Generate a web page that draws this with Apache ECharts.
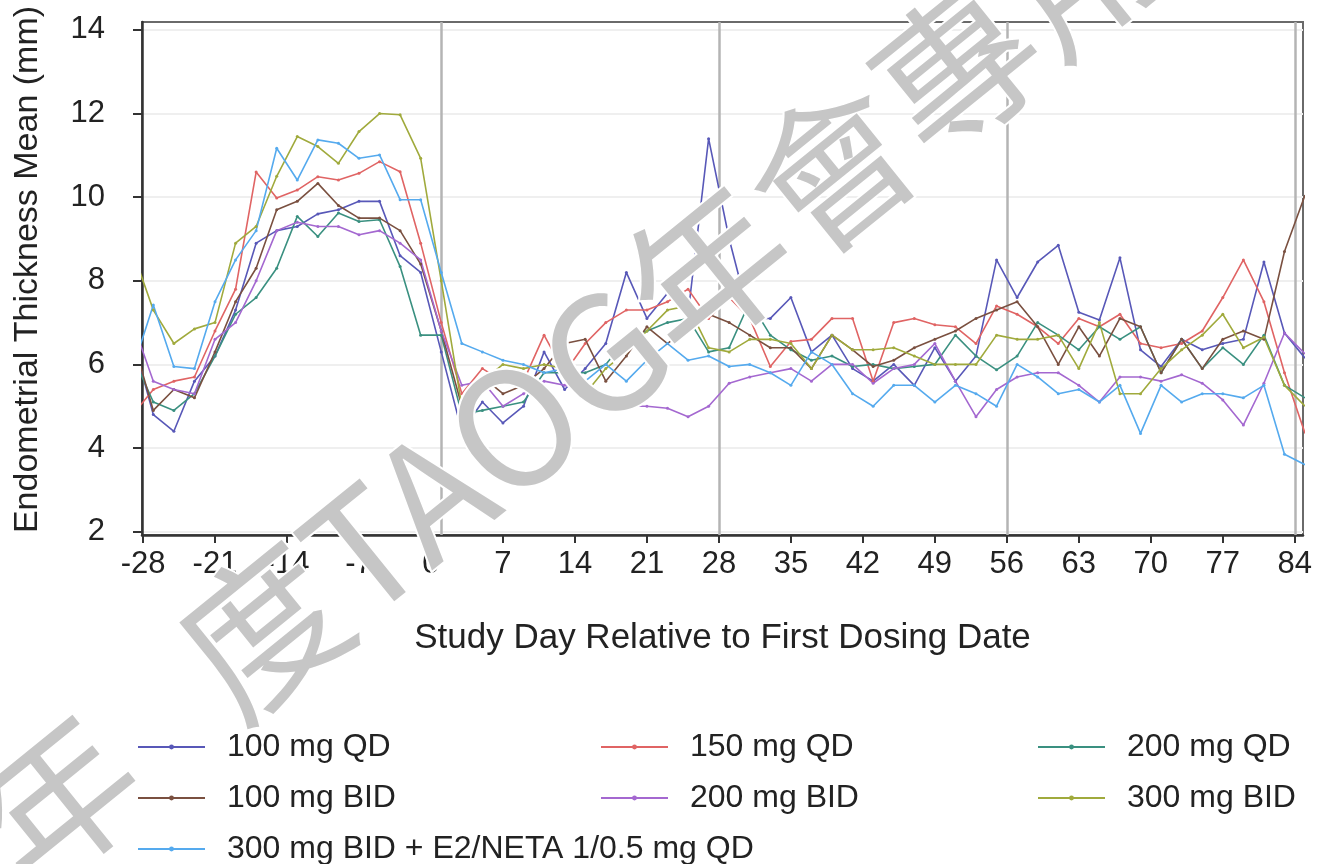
<!DOCTYPE html>
<html>
<head>
<meta charset="utf-8">
<script src="https://cdn.jsdelivr.net/npm/echarts@6/dist/echarts.min.js"></script>
<style>html,body{margin:0;padding:0;background:#fff;}#c{width:1330px;height:864px;}</style>
</head>
<body>
<div id="c"></div>
<script>
// Study days (odd days; first/last points lie just outside the plotted range and are clipped)
const days = [-29,-27,-25,-23,-21,-19,-17,-15,-13,-11,-9,-7,-5,-3,-1,1,3,5,7,9,11,13,15,17,19,21,23,25,27,29,31,33,35,37,39,41,43,45,47,49,51,53,55,57,59,61,63,65,67,69,71,73,75,77,79,81,83,85];

const qd100 = [6.6,4.8,4.4,5.6,6.2,7.3,8.9,9.2,9.3,9.6,9.7,9.9,9.9,8.6,8.2,
  6.3,4.4,5.1,4.6,5.0,6.3,5.4,5.9,6.5,8.2,7.1,7.7,7.2,11.4,
  9.0,7.1,7.1,7.6,6.3,6.7,5.9,5.6,6.0,5.5,6.4,5.6,6.2,8.5,
  7.6,8.45,8.85,7.25,7.06,8.55,6.35,5.95,6.6,6.35,6.5,6.6,8.45,6.75,6.15];
const qd150 = [4.8,5.4,5.6,5.7,6.8,7.8,10.6,9.98,10.17,10.49,10.41,10.57,10.85,10.61,8.9,
  7.0,5.3,5.9,5.6,5.6,6.7,5.8,6.5,7.0,7.3,7.3,7.5,7.8,7.1,
  7.6,7.1,5.95,6.55,6.6,7.1,7.1,5.6,7.0,7.1,6.95,6.9,6.5,7.4,
  7.2,6.9,6.5,7.1,6.9,7.2,6.5,6.4,6.5,6.8,7.6,8.5,7.5,5.8,4.35];
const qd200 = [6.2,5.1,4.9,5.3,6.2,7.2,7.6,8.3,9.54,9.06,9.62,9.42,9.46,8.34,6.7,
  6.7,4.8,4.9,5.0,5.1,5.8,5.8,5.8,6.0,6.6,6.8,7.0,7.1,6.3,
  6.4,7.5,6.7,6.35,6.1,6.2,5.95,6.0,5.9,5.95,6.0,6.7,6.2,5.87,
  6.2,7.0,6.7,6.35,6.9,6.6,6.9,5.8,6.6,5.9,6.4,6.0,6.7,5.5,5.2];
const bid100 = [6.6,4.9,5.4,5.2,6.3,7.5,8.3,9.7,9.9,10.33,9.8,9.5,9.5,9.2,8.4,
  6.8,5.0,5.7,5.3,5.5,5.9,6.5,6.6,5.6,6.2,6.9,6.5,6.9,7.2,
  7.0,6.7,6.4,6.4,5.9,6.7,6.35,5.95,6.1,6.4,6.6,6.8,7.1,7.3,
  7.5,6.9,6.0,6.9,6.2,7.1,6.9,5.8,6.6,5.9,6.6,6.8,6.6,8.7,10.05];
const bid200 = [7.0,5.6,5.4,5.3,6.6,7.0,8.0,9.2,9.4,9.3,9.3,9.1,9.2,8.9,8.5,
  6.8,5.5,5.6,5.0,5.3,5.6,5.5,5.4,5.0,5.0,5.0,4.95,4.75,5.0,
  5.55,5.7,5.8,5.9,5.6,6.0,6.0,5.55,5.9,6.0,6.5,5.6,4.75,5.4,
  5.7,5.8,5.8,5.5,5.1,5.7,5.7,5.6,5.75,5.55,5.15,4.55,5.55,6.75,6.25];
const bid300 = [8.7,7.3,6.5,6.85,7.0,8.9,9.3,10.5,11.45,11.21,10.81,11.57,12.0,11.97,10.93,
  8.0,5.0,5.6,6.0,5.9,6.0,5.9,5.3,5.9,6.3,6.8,7.3,7.4,6.4,
  6.3,6.6,6.6,6.5,5.9,6.7,6.35,6.35,6.4,6.2,6.0,6.0,6.0,6.7,
  6.6,6.6,6.7,5.9,7.0,5.3,5.3,5.9,6.35,6.7,7.2,6.4,6.65,5.5,5.0];
const bid300e2 = [5.9,7.42,5.95,5.9,7.5,8.5,9.2,11.17,10.41,11.37,11.29,10.93,11.01,9.94,9.94,
  8.2,6.5,6.3,6.1,6.0,5.8,5.9,5.6,6.0,5.6,6.1,6.5,6.1,6.2,
  5.95,6.0,5.8,5.5,6.3,6.0,5.3,5.0,5.5,5.5,5.1,5.5,5.3,5.0,
  6.0,5.7,5.3,5.4,5.1,5.5,4.35,5.5,5.1,5.3,5.3,5.2,5.5,3.85,3.6];

const seriesNames = ['100 mg QD','150 mg QD','200 mg QD','100 mg BID','200 mg BID','300 mg BID','300 mg BID + E2/NETA 1/0.5 mg QD'];
const seriesValues = [qd100, qd150, qd200, bid100, bid200, bid300, bid300e2];
const seriesColors = ['#5858b8','#e06464','#3a9080','#7a5040','#a468d0','#a0aa3c','#55aaee'];

const xTicks = [-28,-21,-14,-7,0,7,14,21,28,35,42,49,56,63,70,77,84];
const yTicks = [2,4,6,8,10,12,14];
const refDays = [1,28,56,84];

const legendCols = [
  ['100 mg QD','100 mg BID','300 mg BID + E2/NETA 1/0.5 mg QD'],
  ['150 mg QD','200 mg BID'],
  ['200 mg QD','300 mg BID']
];
const legendLeft = [137,600,1037];

const FONT = '"Liberation Sans", Arial, Helvetica, sans-serif';

const chart = echarts.init(document.getElementById('c'), null, {renderer:'canvas'});

const series = seriesNames.map((n,i)=>({
  name:n, type:'line', color:seriesColors[i],
  data: days.map((d,j)=>[d, seriesValues[i][j]]),
  symbol:'circle', symbolSize:3, showSymbol:true,
  lineStyle:{width:1.6, color:seriesColors[i]},
  itemStyle:{color:seriesColors[i]},
  clip:true, z:3
}));
series[0].markLine = {
  silent:true, symbol:'none', label:{show:false},
  lineStyle:{color:'#b4b4b4', width:2.5, type:'solid'},
  data: refDays.map(d=>({xAxis:d})), z:1
};

const wmStyle = {fontSize:160, fontFamily:'"Noto Sans CJK TC"', fill:'#c6c6c6', stroke:'#ffffff', lineWidth:4, verticalAlign:'middle'};

chart.setOption({
  animation:false,
  backgroundColor:'#fff',
  grid:{left:142, right:27, top:22, bottom:329, show:true, borderColor:'#6a6a6a', borderWidth:2},
  xAxis:{
    type:'value', min:-28.1, max:84.8,
    name:'Study Day Relative to First Dosing Date', nameLocation:'middle', nameGap:86,
    nameTextStyle:{fontFamily:FONT, fontSize:35, color:'#222'},
    axisLine:{show:true, onZero:false, lineStyle:{color:'#333', width:2.5}},
    axisTick:{show:true, inside:false, length:8, lineStyle:{color:'#333', width:2}, customValues:xTicks},
    axisLabel:{fontFamily:FONT, fontSize:31, color:'#222', margin:14, customValues:xTicks},
    splitLine:{show:false}
  },
  yAxis:{
    type:'value', min:1.92, max:14.19,
    name:'Endometrial Thickness Mean (mm)', nameLocation:'middle', nameGap:97, nameRotate:90,
    nameTextStyle:{fontFamily:FONT, fontSize:34, color:'#222', padding:[0,0,0,18]},
    axisLine:{show:true, onZero:false, lineStyle:{color:'#333', width:2.5}},
    axisTick:{show:true, inside:false, length:9, lineStyle:{color:'#333', width:2}, customValues:yTicks},
    axisLabel:{fontFamily:FONT, fontSize:31, color:'#222', margin:37, customValues:yTicks},
    splitLine:{show:true, lineStyle:{color:'#efefef', width:2}}
  },
  legend: legendCols.map((col,k)=>({
    orient:'vertical', left:legendLeft[k], top:731, padding:0, height:200,
    itemWidth:67, itemHeight:6, itemGap:19,
    data: col,
    textStyle:{fontFamily:FONT, fontSize:32, color:'#222', padding:[0,0,0,17]},
    selectedMode:false
  })),
  graphic:[
    {type:'text', x:56, y:798, rotation:0.68, z:100, silent:true,
      style:Object.assign({text:'年', align:'center'}, wmStyle)},
    {type:'text', x:200, y:680, rotation:0.68, z:100, silent:true,
      style:Object.assign({text:'度TAOG年會專用', align:'left'}, wmStyle)}
  ],
  series: series
});
</script>
</body>
</html>
